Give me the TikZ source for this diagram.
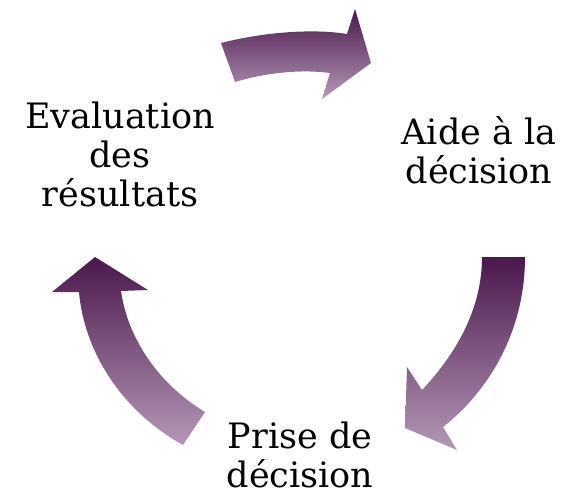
\documentclass[tikz,border=0pt]{standalone}
\usepackage{fontspec}
\setmainfont{DejaVu Serif}
\usepackage{tikz}
\definecolor{arrow_dark}{RGB}{74,24,76}
\definecolor{arrow_light}{RGB}{180,152,182}

\begin{document}
\begin{tikzpicture}[x=1pt,y=-1pt]
    \tikzstyle{step_label}=[align=center, inner sep=0pt, text=black, font=\fontsize{35}{39}\selectfont]
    \tikzstyle{block_arrow}=[draw=none, top color=arrow_dark, bottom color=arrow_light, shading angle=0]

    \useasboundingbox (0,0) rectangle (570,498);

    \node[step_label] (aide)  at (479,150) {Aide à la\\décision};
    \node[step_label] (prise) at (300,455) {Prise de\\décision};
    \node[step_label] (eval)  at (120,154) {Evaluation\\des\\résultats};

    % eval -> aide
    \shade[block_arrow] (221,43) .. controls (260,33) and (310,28) .. (347,34)
        -- (355,9) -- (371,63) -- (322,99) -- (330,73)
        .. controls (300,69) and (265,73) .. (235,82) -- cycle;
    % aide -> prise
    \shade[block_arrow] (482,257) -- (525,257)
        .. controls (525,330) and (490,390) .. (443,427)
        -- (457,450) -- (405,428) -- (407,367) -- (422,390)
        .. controls (455,355) and (482,310) .. (482,257) -- cycle;
    % prise -> eval
    \shade[block_arrow] (95,257) -- (148,290) -- (121,291)
        .. controls (128,340) and (160,385) .. (205,412) -- (183,445)
        .. controls (120,410) and (84,350) .. (79,292) -- (52,292) -- cycle;
\end{tikzpicture}
\end{document}
